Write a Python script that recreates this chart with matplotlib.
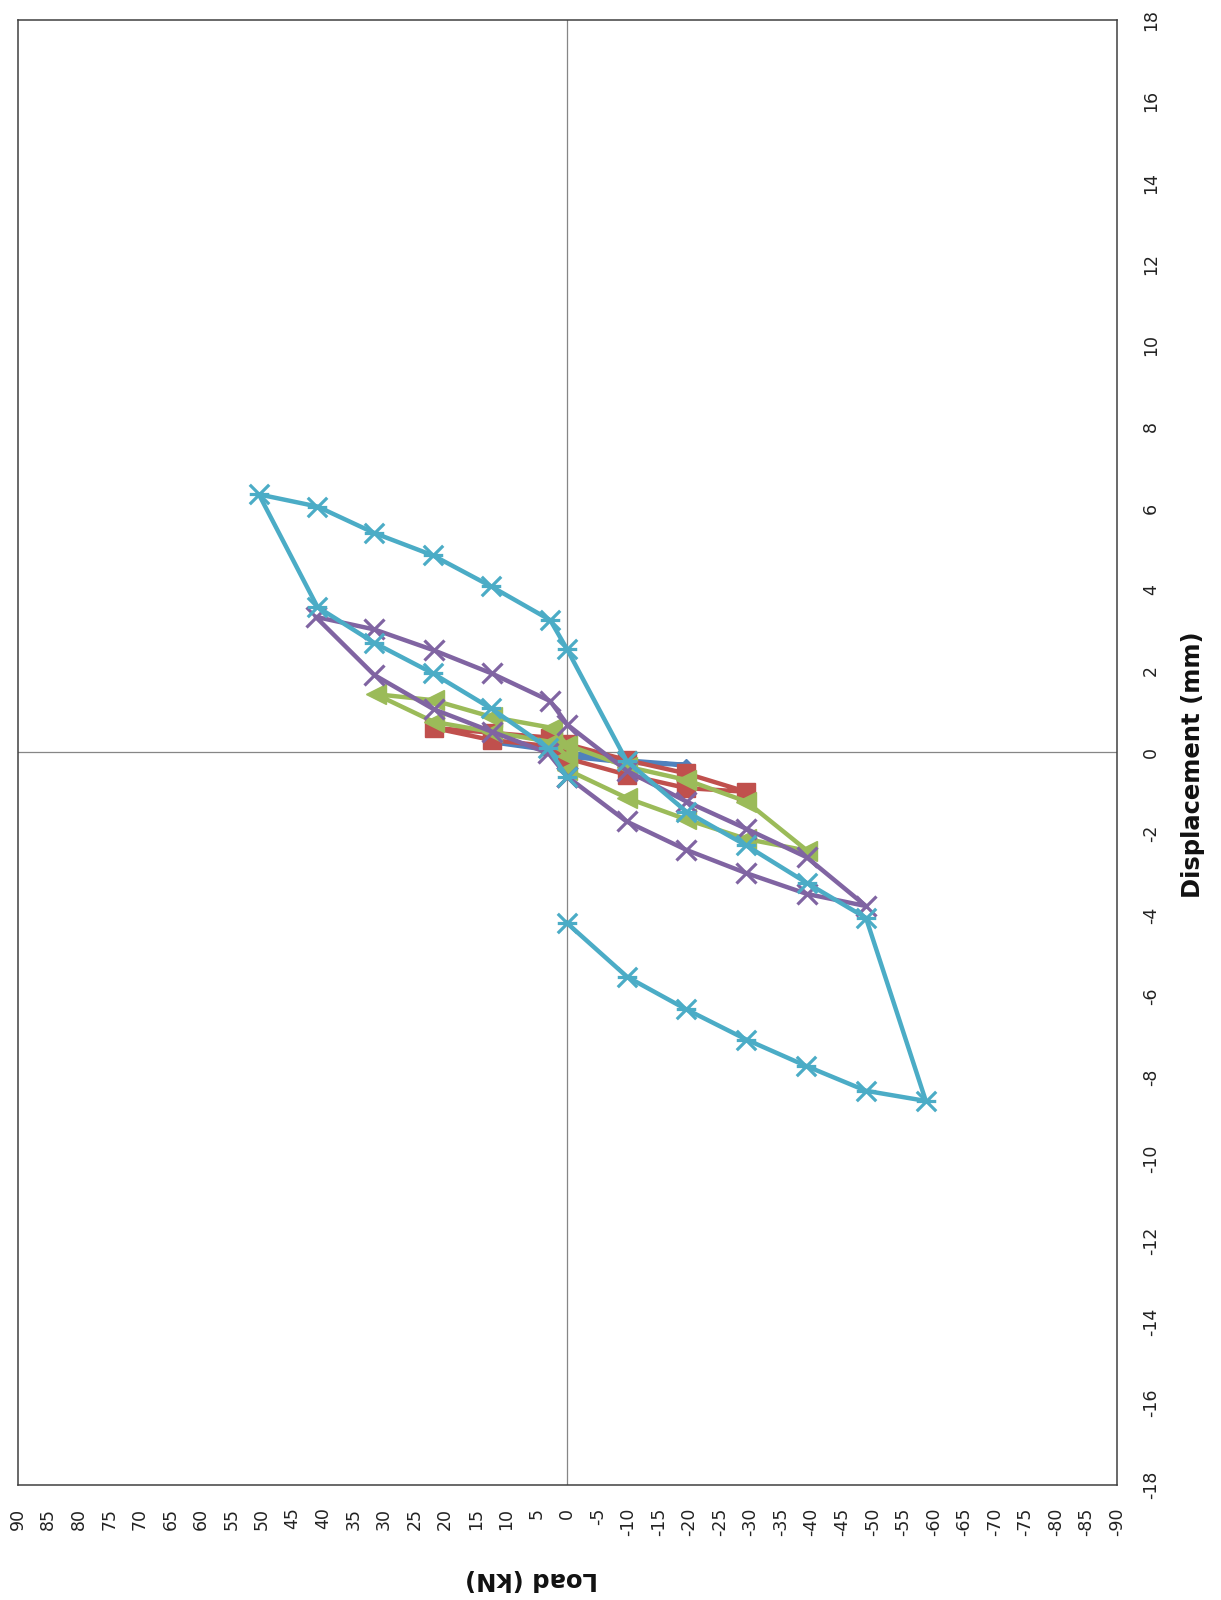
import matplotlib
matplotlib.use("Agg")
import matplotlib.pyplot as plt
from matplotlib.path import Path
import numpy as np

plt.rcParams['font.family'] = ['DejaVu Sans']
plt.rcParams['axes.unicode_minus'] = False

# ---- data: load (kN) vs displacement (mm) ----
blue_load = [12.4, 2.8, -9.7, -19.5, -9.7, 0.0]
blue_disp = [0.25, 0.05, -0.20, -0.31, -0.25, -0.10]

red_load = [0.0, 2.8, 12.4, 21.9, 12.4, 2.8, 0.0, -9.7, -19.5, -29.3, -19.5, -9.7, 0.0]
red_disp = [0.0, 0.15, 0.30, 0.60, 0.48, 0.36, 0.20, -0.19, -0.52, -0.97, -0.88, -0.55, -0.15]

green_load = [0.0, 2.5, 12.4, 21.9, 31.4, 21.9, 12.4, 2.5, 0.0, -9.7, -19.5, -29.3, -39.3,
              -29.3, -19.5, -9.7, 0.0]
green_disp = [-0.10, 0.25, 0.50, 0.75, 1.43, 1.28, 0.87, 0.60, 0.18, -0.35, -0.68, -1.21, -2.42,
              -2.13, -1.65, -1.12, -0.43]

purple_load = [0.0, 3.1, 12.4, 21.9, 31.6, 41.2, 31.6, 21.9, 12.4, 2.8, 0.0, -9.7, -19.5, -29.3,
               -39.2, -48.9, -39.2, -29.3, -19.5, -9.7, 0.0]
purple_disp = [-0.60, -0.02, 0.51, 1.06, 1.90, 3.33, 3.02, 2.51, 1.94, 1.26, 0.68, -0.45, -1.21,
               -1.88, -2.58, -3.78, -3.48, -2.97, -2.40, -1.70, -0.60]

cyan_load = [0.1, 3.1, 12.5, 22.0, 31.6, 40.9, 50.5, 40.9, 31.6, 22.0, 12.5, 2.8, 0.1, -9.7,
             -19.5, -29.3, -39.2, -48.9, -58.7, -48.9, -39.1, -29.3, -19.5, -9.8, 0.1]
cyan_disp = [-0.60, 0.10, 1.08, 1.94, 2.69, 3.57, 6.34, 6.04, 5.39, 4.84, 4.08, 3.25, 2.55, -0.21,
             -1.46, -2.29, -3.21, -4.07, -8.57, -8.32, -7.71, -7.06, -6.32, -5.52, -4.19]

x_ticks = list(range(-90, 91, 5))
y_ticks = list(range(-18, 19, 2))

# ---- figure ----
W, H = 1221, 1600
fig = plt.figure(figsize=(W / 100, H / 100), dpi=100)
ax = fig.add_axes([17.6 / W, (H - 1484.6) / H, 1099.4 / W, 1464.6 / H])

ax.axhline(0, color='#868686', lw=0.9, zorder=1)
ax.axvline(0, color='#868686', lw=0.9, zorder=1)

star = Path([(-1, -1), (1, 1), (-1, 1), (1, -1), (-1, 0), (1, 0)],
            [Path.MOVETO, Path.LINETO, Path.MOVETO, Path.LINETO, Path.MOVETO, Path.LINETO])

lw = 3.2
ax.plot(blue_load, blue_disp, color='#4F81BD', lw=lw, marker='D', ms=6, zorder=3)
ax.plot(red_load, red_disp, color='#C0504D', lw=lw, marker='s', ms=13, zorder=4)
ax.plot(green_load, green_disp, color='#9BBB59', lw=lw, marker='<', ms=15, zorder=5)
ax.plot(purple_load, purple_disp, color='#8064A2', lw=lw, marker='x', ms=14, mew=2.3, zorder=6)
ax.plot(cyan_load, cyan_disp, color='#4BACC6', lw=lw, marker=star, ms=14, mew=2.3,
        mfc='none', zorder=7)

ax.set_xlim(90, -90)
ax.set_ylim(-18, 18)
ax.set_xticks(x_ticks)
ax.set_yticks(y_ticks)
ax.set_xticklabels([str(v) for v in x_ticks], rotation=90, va='top', ha='center')
ax.set_yticklabels([str(v) for v in y_ticks], rotation=90, va='center', ha='left')
ax.tick_params(axis='x', length=0, pad=16.5, labelsize=12.5, colors='#222222')
ax.tick_params(axis='y', length=0, pad=18, labelsize=12.5, colors='#222222',
               left=False, labelleft=False, right=False, labelright=True)

for s in ax.spines.values():
    s.set_color('#404040')
    s.set_linewidth(1.1)

fig.text(532 / W, 1 - 1579 / H, 'Load (kN)', rotation=180, ha='center', va='center',
         fontsize=17.5, fontweight='bold', color='#111111')
fig.text(1193 / W, 1 - 765 / H, 'Displacement (mm)', rotation=90, ha='center', va='center',
         fontsize=17.5, fontweight='bold', color='#111111')

fig.savefig('out.png', dpi=100, facecolor='white')
